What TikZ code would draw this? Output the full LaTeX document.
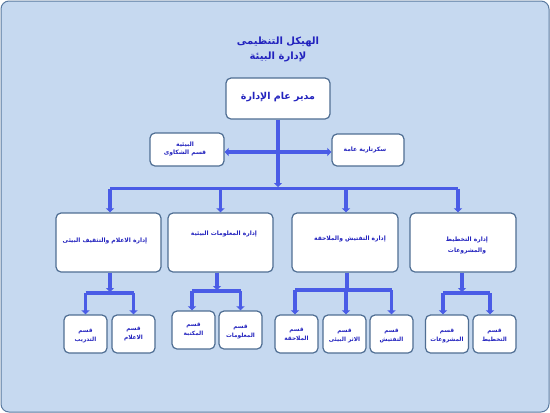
\documentclass[tikz,border=0pt]{standalone}
\usepackage{fontspec}
\newfontfamily\arabicfont[Script=Arabic]{DejaVu Sans}
\TeXXeTstate=1
\usetikzlibrary{arrows.meta}
\definecolor{bgblue}{HTML}{C6D9F0}
\definecolor{frameblue}{HTML}{5A7AA0}
\definecolor{boxborder}{HTML}{4F6E93}
\definecolor{lineblue}{HTML}{4A5CE6}
\definecolor{txtblue}{HTML}{2222BE}
\newcommand{\ar}[1]{{\arabicfont\bfseries\beginR #1\endR}}
\tikzset{
  box/.style={draw=boxborder, fill=white, rounded corners=5pt, line width=1.2pt, inner sep=0pt},
  txt/.style={text=txtblue, align=center, inner sep=0pt},
  conn/.style={draw=lineblue, line width=3.2pt},
  arr/.style={conn, -{Triangle[length=4pt,width=8pt]}}
}
\begin{document}
\begin{tikzpicture}[x=1pt,y=-1pt]
\useasboundingbox (0,0) rectangle (550,413);
\draw[fill=bgblue, draw=frameblue, line width=1pt, rounded corners=8pt] (1,1) rectangle (549,412);
% title
\node[txt, font=\fontsize{10}{15}\selectfont] (title) at (278,49) {\ar{الهيكل التنظيمى}\\\ar{لإدارة البيئة}};
% top
\node[box, minimum width=104pt, minimum height=41pt] (top) at (278,98.5) {};
\node[txt, font=\fontsize{9.5}{12}\selectfont] (ttop) at (278,97) {\ar{مدير  عام الإدارة}};
% staff
\node[box, minimum width=74pt, minimum height=33pt] (cmp) at (187,149.5) {};
\node[txt, font=\fontsize{6}{8.5}\selectfont] (tcmp) at (185,149) {\ar{البيئية}\\\ar{قسم الشكاوى}};
\node[box, minimum width=72pt, minimum height=32pt] (sec) at (368,150) {};
\node[txt, font=\fontsize{6}{8}\selectfont] (tsec) at (365,150) {\ar{سكرتارية عامة}};
% level 2
\node[box, minimum width=105pt, minimum height=59pt] (d1) at (108.5,242.5) {};
\node[box, minimum width=105pt, minimum height=59pt] (d2) at (220.5,242.5) {};
\node[box, minimum width=106pt, minimum height=59pt] (d3) at (345,242.5) {};
\node[box, minimum width=106pt, minimum height=59pt] (d4) at (463,242.5) {};
\node[txt, font=\fontsize{6}{9}\selectfont] (t1) at (105,241) {\ar{إدارة الاعلام والتثقيف البيئى}};
\node[txt, font=\fontsize{6}{9}\selectfont] (t2) at (224,234) {\ar{إدارة المعلومات البيئية}};
\node[txt, font=\fontsize{6}{9}\selectfont] (t3) at (350,239) {\ar{إدارة التفتيش والملاحقة}};
\node[txt, font=\fontsize{6}{11}\selectfont] (t4) at (467,245) {\ar{إدارة التخطيط}\\\ar{والمشروعات}};
% level 3
\tikzset{sbox/.style={box, minimum width=43pt, minimum height=38pt},
         stxt/.style={txt, font=\fontsize{5.8}{9}\selectfont}}
\node[sbox] (s11) at (85.5,334) {};
\node[stxt] (u11) at (85.5,336) {\ar{قسم}\\\ar{التدريب}};
\node[sbox] (s12) at (133.5,334) {};
\node[stxt] (u12) at (133.5,334) {\ar{قسم}\\\ar{الاعلام}};
\node[sbox] (s21) at (193.5,330) {};
\node[stxt] (u21) at (193.5,330) {\ar{قسم}\\\ar{المكتبة}};
\node[sbox] (s22) at (240.5,330) {};
\node[stxt] (u22) at (240.5,332) {\ar{قسم}\\\ar{المعلومات}};
\node[sbox] (s31) at (296.5,334) {};
\node[stxt] (u31) at (296.5,334) {\ar{قسم}\\\ar{الملاحقة}};
\node[sbox] (s32) at (344.5,334) {};
\node[stxt] (u32) at (344.5,336) {\ar{قسم}\\\ar{الاثر البيئى}};
\node[sbox] (s33) at (391.5,334) {};
\node[stxt] (u33) at (391.5,336) {\ar{قسم}\\\ar{التفتيش}};
\node[sbox] (s41) at (447,334) {};
\node[stxt] (u41) at (447,336) {\ar{قسم}\\\ar{المشروعات}};
\node[sbox] (s42) at (494.5,334) {};
\node[stxt] (u42) at (494.5,336) {\ar{قسم}\\\ar{التخطيط}};
% connectors top
\coordinate (j) at (278,152);
\coordinate (bus) at (278,188.5);
\draw[arr] (top.south) -- (278,187);
\draw[arr] (j) -- (cmp.east |- j);
\draw[arr] (j) -- (sec.west |- j);
\draw[conn] ([xshift=1.5pt]d1.north |- bus) -- ([xshift=-5pt]d4.north |- bus);
\draw[arr] ([xshift=1.5pt]d1.north |- bus) -- ([xshift=1.5pt]d1.north);
\draw[arr] (d2.north |- bus) -- (d2.north);
\draw[arr] ([xshift=1pt]d3.north |- bus) -- ([xshift=1pt]d3.north);
\draw[arr] ([xshift=-5pt]d4.north |- bus) -- ([xshift=-5pt]d4.north);
% group 1
\coordinate (g1) at (110,293);
\draw[arr] ([xshift=1.5pt]d1.south) -- (110,292);
\draw[conn] (s11.north |- g1) -- (s12.north |- g1);
\draw[arr] (s11.north |- g1) -- (s11.north);
\draw[arr] (s12.north |- g1) -- (s12.north);
% group 2
\coordinate (g2) at (217,291);
\draw[arr] ([xshift=-3.5pt]d2.south) -- (217,290);
\draw[conn] ([xshift=-1.5pt]s21.north |- g2) -- (s22.north |- g2);
\draw[arr] ([xshift=-1.5pt]s21.north |- g2) -- ([xshift=-1.5pt]s21.north);
\draw[arr] (s22.north |- g2) -- (s22.north);
% group 3
\coordinate (g3) at (347,290);
\draw[conn] ([xshift=2pt]d3.south) -- (g3);
\draw[conn] ([xshift=-1.5pt]s31.north |- g3) -- (s33.north |- g3);
\draw[arr] ([xshift=-1.5pt]s31.north |- g3) -- ([xshift=-1.5pt]s31.north);
\draw[arr] ([xshift=1.5pt]s32.north |- g3) -- ([xshift=1.5pt]s32.north);
\draw[arr] (s33.north |- g3) -- (s33.north);
% group 4
\coordinate (g4) at (462,293);
\draw[arr] ([xshift=-1pt]d4.south) -- (462,292);
\draw[conn] ([xshift=-4pt]s41.north |- g4) -- ([xshift=-4.5pt]s42.north |- g4);
\draw[arr] ([xshift=-4pt]s41.north |- g4) -- ([xshift=-4pt]s41.north);
\draw[arr] ([xshift=-4.5pt]s42.north |- g4) -- ([xshift=-4.5pt]s42.north);
\end{tikzpicture}
\end{document}
